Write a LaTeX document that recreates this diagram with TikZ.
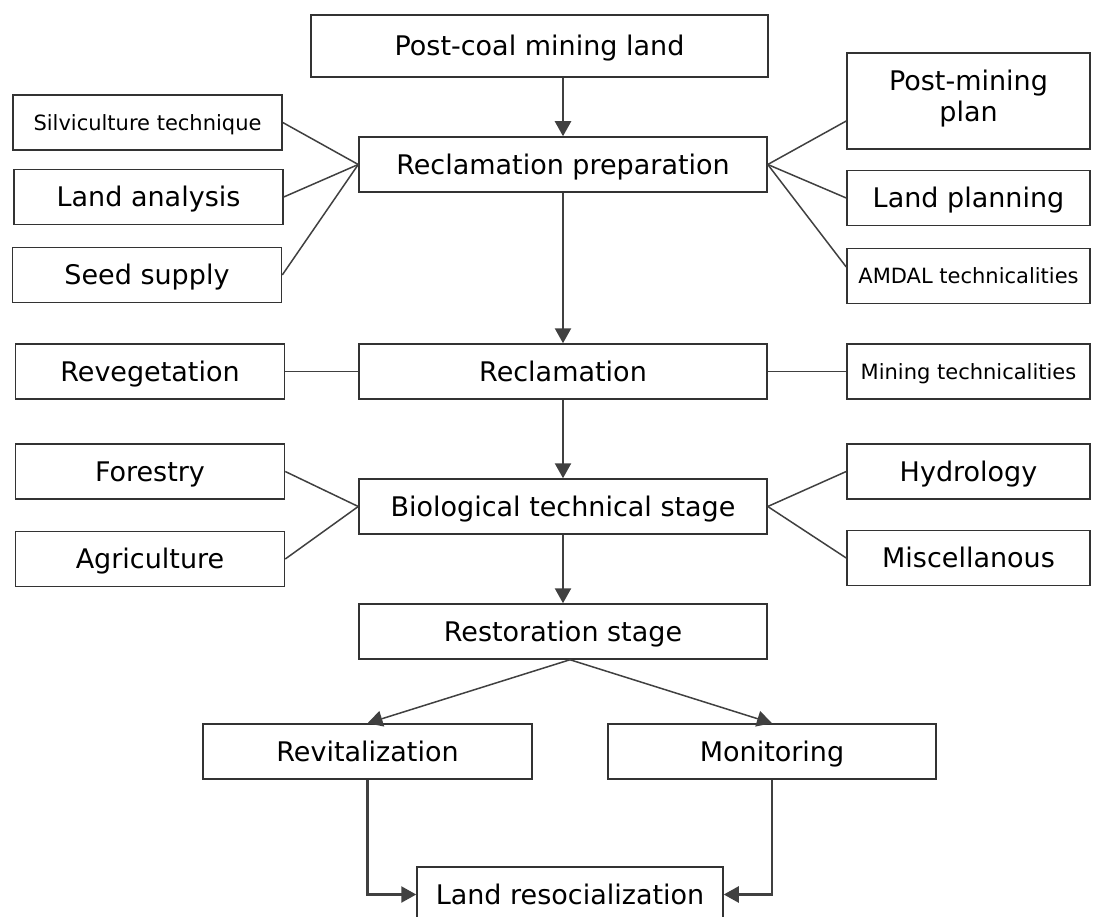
\documentclass[tikz,border=0pt]{standalone}
\usepackage{fontspec}
\setmainfont{DejaVu Sans}
\usetikzlibrary{arrows.meta}
\begin{document}
\begin{tikzpicture}[
        x=1pt, y=-1pt,
        box/.style={draw=black!80, line width=1.5pt, minimum height=55pt, inner sep=2pt, align=center,
            text height=24pt, text depth=4.3pt, font=\fontsize{27}{27}\selectfont},
        mainbox/.style={box, minimum width=408pt},
        sidebox/.style={box, minimum width=269pt},
        rightbox/.style={box, minimum width=243pt},
        small/.style={text height=19pt, text depth=3.7pt, font=\fontsize{21}{24}\selectfont},
        link/.style={draw=black!75, line width=1.5pt},
        arrow/.style={-{Triangle[length=15pt,width=16pt]}, draw=black!75, line width=2.4pt},
        thinarrow/.style={arrow, line width=1.5pt}
    ]
        \useasboundingbox (0,0) rectangle (1100,917);
        \clip (0,0) rectangle (1100,917);

        % main stages
        \node[box, minimum width=457pt, minimum height=62pt] (coal) at (539.5,46) {Post-coal mining land};
        \node[mainbox] (prep) at (563,164.5) {Reclamation preparation};
        \node[mainbox] (reclam) at (563,371.5) {Reclamation};
        \node[mainbox] (bio) at (563,506.5) {Biological technical stage};
        \node[mainbox] (restor) at (563,631.5) {Restoration stage};
        \node[box, minimum width=329pt] (revital) at (367.5,751.5) {Revitalization};
        \node[box, minimum width=328pt] (monitor) at (772,751.5) {Monitoring};
        \node[box, minimum width=306pt] (resocial) at (570,894.5) {Land resocialization};

        % left side
        \node[sidebox, small] (silvi) at (147.5,122.5) {Silviculture technique};
        \node[sidebox] (landan) at (148.5,197) {Land analysis};
        \node[sidebox] (seed) at (147,275) {Seed supply};
        \node[sidebox] (reveg) at (150,371.5) {Revegetation};
        \node[sidebox] (forest) at (150,471.5) {Forestry};
        \node[sidebox] (agri) at (150,559) {Agriculture};

        % right side
        \node[rightbox, minimum height=96pt, text height=48pt, text depth=6pt, font=\fontsize{27}{31}\selectfont] (postplan) at (968.5,101) {Post-mining\\plan};
        \node[rightbox] (landpl) at (968.5,198) {Land planning};
        \node[rightbox, small] (amdal) at (968.5,276) {AMDAL technicalities};
        \node[rightbox, small] (mintech) at (968.5,371.5) {Mining technicalities};
        \node[rightbox] (hydro) at (968.5,471.5) {Hydrology};
        \node[rightbox] (misc) at (968.5,558) {Miscellanous};

        % flow
        \draw[arrow] (prep.north |- coal.south) -- (prep.north);
        \draw[arrow] (prep) -- (reclam);
        \draw[arrow] (reclam) -- (bio);
        \draw[arrow] (bio) -- (restor);
        \draw[thinarrow] ([xshift=7pt]restor.south) -- (revital.north);
        \draw[thinarrow] ([xshift=7pt]restor.south) -- (monitor.north);
        \draw[arrow] (revital.south) |- (resocial.west);
        \draw[arrow] (monitor.south) |- (resocial.east);

        % side links
        \draw[link] (silvi.east) -- (prep.west);
        \draw[link] (landan.east) -- (prep.west);
        \draw[link] (seed.east) -- (prep.west);
        \draw[link] ([yshift=-20pt]postplan.west) -- (prep.east);
        \draw[link] (landpl.west) -- (prep.east);
        \draw[link] ([yshift=9pt]amdal.west) -- (prep.east);
        \draw[link] (reveg) -- (reclam);
        \draw[link] (reclam) -- (mintech);
        \draw[link] (forest.east) -- (bio.west);
        \draw[link] (agri.east) -- (bio.west);
        \draw[link] (hydro.west) -- (bio.east);
        \draw[link] (misc.west) -- (bio.east);
    \end{tikzpicture}
\end{document}
